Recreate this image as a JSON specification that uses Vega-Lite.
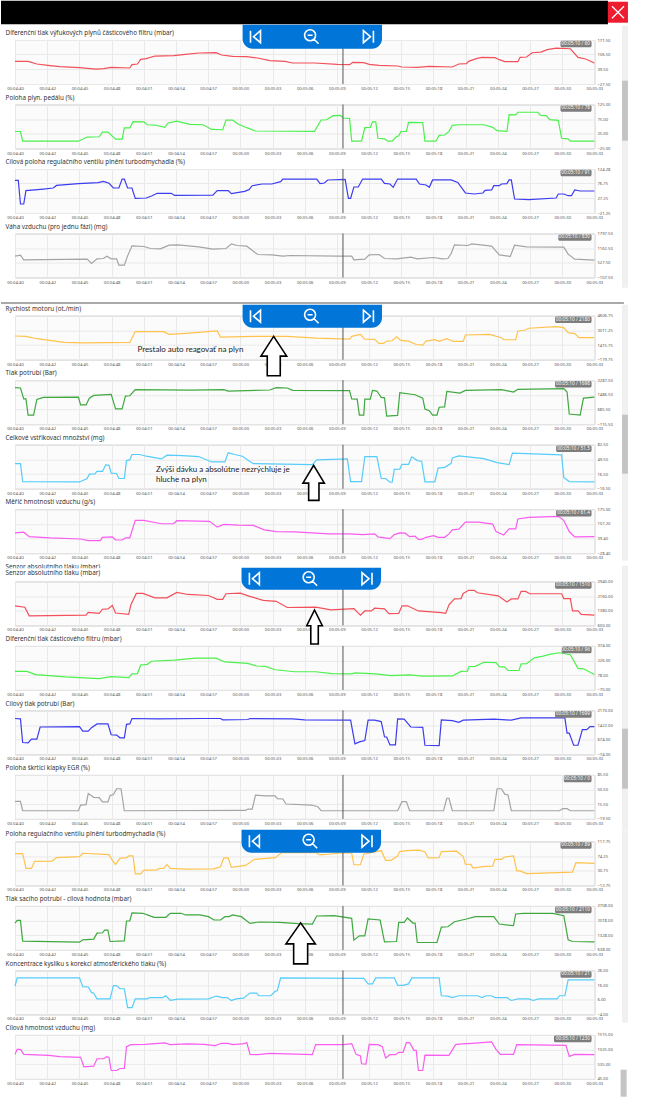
{
"$schema":"https://vega.github.io/schema/vega-lite/v6.json",
"padding":0,
"background":"white",
"config":{
"view":{"fill":"#fbfbfb","stroke":"#c4c4c4","strokeWidth":1},
"axis":{"domain":false,"ticks":false,"grid":true,"gridColor":"#e9e9e9","gridWidth":1,"labelFontSize":4.2,"labelColor":"#555555","labelFont":"Noto Sans","labelPadding":2.5,"labelOverlap":false,"labelBound":false,"labelFlush":false},
"title":{"anchor":"start","frame":"group","dx":-9.4,"offset":1.5,"fontSize":6.3,"fontWeight":"normal","font":"Noto Sans","color":"#333333"},
"text":{"font":"Noto Sans"}
},
"datasets":{
"s1":[{"t":280,"v":75},{"t":281.2,"v":75},{"t":282,"v":63},{"t":283,"v":57},{"t":284.1,"v":51},{"t":285.9,"v":46.4},{"t":287.4,"v":40},{"t":288.1,"v":42},{"t":288.8,"v":48},{"t":290.5,"v":45},{"t":290.7,"v":60},{"t":291.2,"v":63},{"t":291.5,"v":84},{"t":292,"v":87},{"t":292.8,"v":99},{"t":294.5,"v":100.6},{"t":295.6,"v":106.7},{"t":296.8,"v":112.7},{"t":298.4,"v":114},{"t":298.9,"v":103.6},{"t":299.9,"v":97.6},{"t":301.2,"v":96},{"t":302.2,"v":90},{"t":303.3,"v":78},{"t":304.7,"v":75},{"t":305.4,"v":67.5},{"t":307.4,"v":67.5},{"t":309.5,"v":61.4},{"t":310.6,"v":60},{"t":310.9,"v":70.5},{"t":311.9,"v":69},{"t":312.4,"v":61.4},{"t":313.3,"v":57},{"t":315,"v":54},{"t":315.4,"v":49.4},{"t":316.8,"v":48},{"t":317.9,"v":52.4},{"t":320,"v":49.4},{"t":320.6,"v":63},{"t":321.3,"v":64.5},{"t":321.5,"v":75},{"t":322.2,"v":87},{"t":322.7,"v":93},{"t":323.9,"v":91.6},{"t":324.3,"v":82.5},{"t":324.8,"v":73.5},{"t":326,"v":73.5},{"t":326.2,"v":93},{"t":326.8,"v":94.6},{"t":327.3,"v":114},{"t":328.1,"v":117},{"t":328.7,"v":127.8},{"t":329.5,"v":135},{"t":330.8,"v":132},{"t":331.5,"v":93},{"t":332.2,"v":85.6},{"t":333,"v":67.5}],
"s2":[{"t":280,"v":33},{"t":280.5,"v":33},{"t":280.7,"v":0},{"t":285.8,"v":0},{"t":286.6,"v":14},{"t":287.7,"v":15},{"t":288,"v":31},{"t":288.5,"v":31},{"t":289.2,"v":7},{"t":289.8,"v":7},{"t":290,"v":45},{"t":290.5,"v":45},{"t":290.8,"v":66.6},{"t":291.8,"v":65.5},{"t":292.1,"v":56},{"t":292.8,"v":55},{"t":293.7,"v":47},{"t":294,"v":62},{"t":294.8,"v":68},{"t":296,"v":57.4},{"t":297.2,"v":56},{"t":298,"v":40},{"t":299,"v":39},{"t":299.3,"v":72},{"t":299.9,"v":72},{"t":300.4,"v":58.6},{"t":301.2,"v":46},{"t":302,"v":34.6},{"t":307.4,"v":33.4},{"t":308,"v":72.3},{"t":308.5,"v":73},{"t":309.1,"v":87},{"t":309.8,"v":88},{"t":310,"v":79},{"t":310.6,"v":78},{"t":310.8,"v":0},{"t":311.7,"v":0},{"t":312,"v":46},{"t":312.5,"v":47},{"t":312.7,"v":65.5},{"t":313,"v":65.5},{"t":313.2,"v":10},{"t":313.8,"v":8},{"t":314.1,"v":0},{"t":314.5,"v":0},{"t":314.9,"v":16},{"t":315.1,"v":18},{"t":315.3,"v":33},{"t":315.8,"v":33},{"t":316,"v":64},{"t":317.3,"v":63},{"t":317.5,"v":0},{"t":318.5,"v":0},{"t":318.8,"v":20},{"t":319.3,"v":21},{"t":319.7,"v":33.4},{"t":320,"v":54},{"t":320.6,"v":56},{"t":322.9,"v":56},{"t":323.7,"v":47},{"t":324.1,"v":36},{"t":325,"v":33.4},{"t":325.2,"v":90.6},{"t":325.8,"v":90},{"t":326,"v":98.6},{"t":327.8,"v":98.6},{"t":328.1,"v":88},{"t":328.6,"v":87},{"t":328.9,"v":73.5},{"t":329.7,"v":71},{"t":330,"v":10},{"t":330.6,"v":8},{"t":330.8,"v":0},{"t":333,"v":0}],
"s3":[{"t":280,"v":87},{"t":280.3,"v":87},{"t":280.5,"v":8.5},{"t":280.8,"v":8.5},{"t":281,"v":52.6},{"t":282.6,"v":58},{"t":283.5,"v":61.4},{"t":283.8,"v":70},{"t":285.8,"v":75.8},{"t":287.6,"v":79},{"t":288.1,"v":83.5},{"t":288.6,"v":77},{"t":289,"v":61.4},{"t":289.5,"v":61.4},{"t":289.8,"v":91},{"t":290,"v":91},{"t":290.3,"v":61.4},{"t":290.7,"v":61.4},{"t":291,"v":27},{"t":292,"v":28.4},{"t":292.5,"v":35},{"t":293,"v":44},{"t":294.3,"v":44},{"t":294.6,"v":37},{"t":298.1,"v":38},{"t":298.5,"v":52.6},{"t":299.5,"v":52.6},{"t":299.8,"v":42.7},{"t":301,"v":50.4},{"t":301.4,"v":56},{"t":301.7,"v":69},{"t":302.6,"v":74.7},{"t":303.5,"v":74.7},{"t":304.3,"v":82.4},{"t":304.5,"v":91},{"t":307.6,"v":91},{"t":307.9,"v":75.8},{"t":308.3,"v":78},{"t":308.6,"v":88},{"t":310.2,"v":90},{"t":310.5,"v":27},{"t":310.7,"v":27},{"t":311,"v":64.7},{"t":311.4,"v":64.7},{"t":311.8,"v":91},{"t":313.5,"v":91},{"t":313.8,"v":76.9},{"t":314.3,"v":74.7},{"t":314.6,"v":63.6},{"t":315,"v":91},{"t":316.7,"v":91},{"t":317,"v":74.7},{"t":317.6,"v":71.4},{"t":317.9,"v":63.6},{"t":318.2,"v":88},{"t":319.9,"v":88},{"t":320.5,"v":80},{"t":321.2,"v":45},{"t":322,"v":41.6},{"t":322.8,"v":45},{"t":323,"v":53.7},{"t":323.6,"v":55},{"t":323.8,"v":69},{"t":324.3,"v":69},{"t":324.5,"v":74.7},{"t":325,"v":75.8},{"t":325.2,"v":88},{"t":325.4,"v":88},{"t":325.7,"v":25},{"t":327,"v":22.8},{"t":329.5,"v":28.4},{"t":329.7,"v":41.6},{"t":330.2,"v":41.6},{"t":330.6,"v":36},{"t":330.9,"v":36},{"t":331.2,"v":55},{"t":331.7,"v":51.5},{"t":333,"v":51.5}],
"s4":[{"t":280,"v":816},{"t":280.5,"v":860},{"t":280.8,"v":657},{"t":286.6,"v":686},{"t":287,"v":499},{"t":287.5,"v":700},{"t":288.1,"v":715},{"t":288.4,"v":816},{"t":288.8,"v":700},{"t":289.3,"v":700},{"t":289.5,"v":427},{"t":290,"v":427},{"t":290.3,"v":830},{"t":290.7,"v":1264},{"t":291.8,"v":1235},{"t":292.4,"v":1148},{"t":293.3,"v":1134},{"t":294.1,"v":1292},{"t":294.9,"v":1307},{"t":296.8,"v":1220},{"t":298.1,"v":1119},{"t":299.3,"v":1148},{"t":299.8,"v":1350},{"t":300.3,"v":1278},{"t":301.2,"v":1249},{"t":302.2,"v":888},{"t":303.5,"v":874},{"t":304.5,"v":816},{"t":305.2,"v":845},{"t":309.5,"v":816},{"t":310.8,"v":816},{"t":311,"v":657},{"t":312,"v":686},{"t":312.4,"v":874},{"t":313.3,"v":888},{"t":313.8,"v":715},{"t":314.9,"v":700},{"t":316.2,"v":773},{"t":316.8,"v":700},{"t":318.3,"v":758},{"t":319.1,"v":700},{"t":319.6,"v":715},{"t":319.9,"v":932},{"t":320.2,"v":1307},{"t":321.4,"v":1278},{"t":321.8,"v":1350},{"t":323.6,"v":1249},{"t":324.3,"v":874},{"t":325.3,"v":802},{"t":325.7,"v":1292},{"t":326.8,"v":1220},{"t":330.2,"v":1206},{"t":330.6,"v":903},{"t":331.2,"v":686},{"t":333,"v":643}],
"s5":[{"t":280,"v":2398},{"t":281,"v":2361},{"t":282,"v":2103},{"t":283,"v":1956},{"t":284.5,"v":1698},{"t":286.4,"v":1661},{"t":290.5,"v":1698},{"t":291,"v":2876},{"t":293.6,"v":2876},{"t":294.1,"v":2582},{"t":295.6,"v":2692},{"t":298.5,"v":2950},{"t":298.8,"v":2287},{"t":301.8,"v":2361},{"t":304.9,"v":2361},{"t":307.6,"v":2177},{"t":310.6,"v":2066},{"t":310.8,"v":2361},{"t":311.6,"v":2582},{"t":312,"v":2066},{"t":312.9,"v":2029},{"t":313.3,"v":1587},{"t":313.7,"v":1587},{"t":314,"v":1845},{"t":314.5,"v":1882},{"t":314.9,"v":2324},{"t":315.3,"v":1919},{"t":316,"v":1845},{"t":316.7,"v":1477},{"t":317.3,"v":1403},{"t":317.6,"v":1845},{"t":318.4,"v":1992},{"t":318.8,"v":1808},{"t":319.5,"v":2103},{"t":320.1,"v":1808},{"t":321,"v":1808},{"t":321.2,"v":2508},{"t":323.4,"v":2582},{"t":324.5,"v":2213},{"t":324.7,"v":1992},{"t":325.8,"v":1992},{"t":326,"v":2950},{"t":326.6,"v":3024},{"t":327,"v":3244},{"t":329.5,"v":3428},{"t":330.2,"v":3318},{"t":330.6,"v":2766},{"t":331.2,"v":2655},{"t":331.6,"v":2213},{"t":333,"v":2213}],
"s6":[{"t":280,"v":1881},{"t":280.5,"v":1862},{"t":280.8,"v":1271},{"t":281,"v":1271},{"t":281.2,"v":384},{"t":281.7,"v":384},{"t":282,"v":1234},{"t":282.6,"v":1345},{"t":285.8,"v":1363},{"t":286,"v":938},{"t":286.5,"v":938},{"t":286.8,"v":1308},{"t":287.2,"v":1456},{"t":288.8,"v":1511},{"t":289.2,"v":717},{"t":289.8,"v":717},{"t":290.1,"v":1419},{"t":290.5,"v":1437},{"t":291,"v":1770},{"t":296,"v":1751},{"t":299.1,"v":1770},{"t":299.5,"v":1696},{"t":303.3,"v":1751},{"t":303.9,"v":1881},{"t":304.9,"v":1862},{"t":305.4,"v":1733},{"t":310.6,"v":1715},{"t":310.8,"v":1271},{"t":311.3,"v":1252},{"t":311.5,"v":384},{"t":311.9,"v":384},{"t":312,"v":1252},{"t":312.5,"v":1252},{"t":312.7,"v":1733},{"t":313.1,"v":1696},{"t":313.5,"v":1345},{"t":313.8,"v":1326},{"t":314,"v":328},{"t":315,"v":365},{"t":315.2,"v":1604},{"t":316.6,"v":1493},{"t":317.3,"v":1308},{"t":317.5,"v":717},{"t":317.9,"v":624},{"t":318.2,"v":384},{"t":318.6,"v":384},{"t":318.8,"v":809},{"t":319.3,"v":828},{"t":319.5,"v":1678},{"t":320.7,"v":1585},{"t":321.2,"v":1733},{"t":324.5,"v":1770},{"t":325.6,"v":1641},{"t":326,"v":1788},{"t":330.2,"v":1825},{"t":330.5,"v":1641},{"t":330.7,"v":439},{"t":331.7,"v":384},{"t":332,"v":1308},{"t":333,"v":1363}],
"s7":[{"t":280,"v":39.9},{"t":280.5,"v":39.9},{"t":280.7,"v":-0.5},{"t":285.9,"v":-1.3},{"t":286.6,"v":6.4},{"t":286.8,"v":16.2},{"t":287.3,"v":17},{"t":287.5,"v":22.3},{"t":288,"v":22.3},{"t":288.3,"v":36.8},{"t":288.6,"v":36},{"t":288.8,"v":18.5},{"t":289.3,"v":17.8},{"t":289.5,"v":6.4},{"t":290,"v":6.4},{"t":290.2,"v":46.7},{"t":290.5,"v":48.2},{"t":290.7,"v":60.4},{"t":291.4,"v":60.4},{"t":292,"v":56.6},{"t":293.4,"v":50.5},{"t":293.9,"v":58.9},{"t":295.3,"v":58.1},{"t":296.8,"v":55.8},{"t":298,"v":43.7},{"t":299.2,"v":43.7},{"t":299.5,"v":64.2},{"t":300.1,"v":60.4},{"t":300.8,"v":56.6},{"t":301.8,"v":39.9},{"t":307.2,"v":37.6},{"t":307.6,"v":48.2},{"t":310.4,"v":50.5},{"t":310.7,"v":-0.5},{"t":311.7,"v":-0.5},{"t":312,"v":55.8},{"t":313.1,"v":55.8},{"t":313.5,"v":6.4},{"t":313.9,"v":6.4},{"t":314.3,"v":-2},{"t":314.5,"v":-2},{"t":314.7,"v":26.9},{"t":315.2,"v":27.7},{"t":315.4,"v":38.3},{"t":316,"v":38.3},{"t":316.3,"v":55.1},{"t":316.8,"v":46.7},{"t":317.2,"v":45.2},{"t":317.5,"v":-1.3},{"t":318.4,"v":-1.3},{"t":318.7,"v":30},{"t":319.3,"v":31.5},{"t":319.9,"v":40.6},{"t":320,"v":52.8},{"t":320.6,"v":57.4},{"t":322.9,"v":51.3},{"t":324.1,"v":42.1},{"t":325.2,"v":37.6},{"t":325.5,"v":63.5},{"t":330,"v":59.7},{"t":330.2,"v":8.6},{"t":330.7,"v":-0.5},{"t":333,"v":-1.3}],
"s8":[{"t":280,"v":65.5},{"t":280.8,"v":68.6},{"t":281.3,"v":48.2},{"t":283.2,"v":42},{"t":286,"v":37.3},{"t":286.7,"v":29.5},{"t":287.8,"v":29.5},{"t":288,"v":45},{"t":288.9,"v":46.7},{"t":289.2,"v":32.6},{"t":289.8,"v":32.6},{"t":290.1,"v":42},{"t":290.5,"v":42},{"t":291,"v":123.4},{"t":291.8,"v":123.4},{"t":293.4,"v":107.7},{"t":294.5,"v":107.7},{"t":294.8,"v":121.8},{"t":297.8,"v":118.7},{"t":298.5,"v":92},{"t":299.1,"v":104.6},{"t":300.4,"v":101.4},{"t":301.8,"v":100},{"t":302.8,"v":79.5},{"t":303.9,"v":71.7},{"t":305.6,"v":70},{"t":308.7,"v":60.8},{"t":310.6,"v":60.8},{"t":311.8,"v":57.6},{"t":312.9,"v":60.8},{"t":313.2,"v":46.7},{"t":314.3,"v":38.8},{"t":314.7,"v":57.6},{"t":315.2,"v":65.5},{"t":315.7,"v":64},{"t":316.1,"v":48.2},{"t":316.6,"v":50},{"t":316.9,"v":35.7},{"t":317.2,"v":35.7},{"t":317.6,"v":45},{"t":318.3,"v":52.9},{"t":318.7,"v":45},{"t":319.3,"v":45},{"t":319.7,"v":60.8},{"t":320,"v":79.5},{"t":320.6,"v":82.7},{"t":321.2,"v":115.5},{"t":322.4,"v":115.5},{"t":323.7,"v":106},{"t":324,"v":71.7},{"t":324.7,"v":56},{"t":325.2,"v":84},{"t":325.8,"v":84},{"t":326,"v":129.6},{"t":327,"v":137.4},{"t":329.7,"v":142},{"t":330.2,"v":123.4},{"t":330.7,"v":71.7},{"t":331.2,"v":46.7},{"t":333,"v":48}],
"s9":[{"t":280,"v":1642},{"t":280.9,"v":1569},{"t":281.3,"v":1112},{"t":286.5,"v":1149},{"t":286.7,"v":1295},{"t":287.7,"v":1240},{"t":288,"v":1459},{"t":288.5,"v":1478},{"t":288.9,"v":1660},{"t":289.2,"v":1258},{"t":290.4,"v":1185},{"t":290.6,"v":1697},{"t":291.1,"v":2300},{"t":291.7,"v":2300},{"t":292.8,"v":2063},{"t":293.9,"v":2063},{"t":294.8,"v":2355},{"t":295.8,"v":2245},{"t":297.7,"v":2190},{"t":298.5,"v":1989},{"t":299,"v":1989},{"t":299.3,"v":2282},{"t":300.6,"v":2318},{"t":301.4,"v":2154},{"t":302.7,"v":1935},{"t":303.9,"v":1880},{"t":304.9,"v":1551},{"t":307.5,"v":1569},{"t":308.9,"v":1423},{"t":311,"v":1496},{"t":311.6,"v":1149},{"t":312,"v":1368},{"t":312.6,"v":1368},{"t":312.9,"v":1514},{"t":313.8,"v":1478},{"t":314.2,"v":1222},{"t":315.1,"v":1240},{"t":315.4,"v":1642},{"t":315.9,"v":1642},{"t":316.9,"v":1368},{"t":319,"v":1277},{"t":319.4,"v":1240},{"t":319.7,"v":1697},{"t":320.2,"v":2008},{"t":320.8,"v":2026},{"t":321,"v":2300},{"t":321.5,"v":2465},{"t":322,"v":2465},{"t":322.3,"v":2337},{"t":324.2,"v":2172},{"t":325,"v":1843},{"t":325.4,"v":2008},{"t":326,"v":2008},{"t":326.3,"v":2410},{"t":326.7,"v":2410},{"t":327.1,"v":2282},{"t":330,"v":2282},{"t":330.2,"v":2026},{"t":330.8,"v":2026},{"t":331,"v":1368},{"t":331.5,"v":1368},{"t":331.8,"v":1185},{"t":333,"v":1149}],
"s10":[{"t":280,"v":116},{"t":281.1,"v":116},{"t":281.9,"v":85},{"t":284.6,"v":61},{"t":287.7,"v":44},{"t":288.8,"v":64},{"t":290.4,"v":54},{"t":290.7,"v":92},{"t":291.2,"v":95},{"t":291.5,"v":181},{"t":292.1,"v":188},{"t":292.5,"v":219},{"t":294.6,"v":230},{"t":296.5,"v":250},{"t":298.4,"v":250},{"t":299.2,"v":212},{"t":301.3,"v":198},{"t":302.1,"v":171},{"t":302.9,"v":167},{"t":303.8,"v":133},{"t":305.6,"v":113},{"t":307.5,"v":113},{"t":309,"v":95},{"t":310.8,"v":92},{"t":311.1,"v":102},{"t":313,"v":92},{"t":314.4,"v":75},{"t":316.1,"v":81},{"t":317.3,"v":68},{"t":320,"v":71},{"t":320.8,"v":116},{"t":321.4,"v":119},{"t":321.5,"v":164},{"t":322.1,"v":167},{"t":322.9,"v":209},{"t":324,"v":205},{"t":324.3,"v":164},{"t":324.8,"v":160},{"t":325.1,"v":126},{"t":326.1,"v":126},{"t":326.3,"v":192},{"t":326.8,"v":195},{"t":327.5,"v":254},{"t":328.3,"v":271},{"t":329,"v":291},{"t":329.8,"v":305},{"t":330.8,"v":285},{"t":331.5,"v":147},{"t":332,"v":143},{"t":333,"v":85}],
"s11":[{"t":280,"v":1756},{"t":280.5,"v":1738},{"t":280.7,"v":530},{"t":281.2,"v":513},{"t":281.5,"v":703},{"t":282,"v":703},{"t":282.3,"v":1324},{"t":285.9,"v":1342},{"t":286.2,"v":1117},{"t":286.7,"v":1117},{"t":287,"v":1290},{"t":287.5,"v":1480},{"t":288.5,"v":1480},{"t":288.8,"v":927},{"t":289.3,"v":910},{"t":289.6,"v":772},{"t":290,"v":772},{"t":290.2,"v":1462},{"t":290.5,"v":1480},{"t":290.7,"v":1756},{"t":293,"v":1738},{"t":297.3,"v":1756},{"t":298.8,"v":1756},{"t":299,"v":1687},{"t":301.3,"v":1705},{"t":301.5,"v":1756},{"t":305.4,"v":1738},{"t":306.5,"v":1687},{"t":310.7,"v":1670},{"t":311,"v":755},{"t":311.1,"v":461},{"t":311.5,"v":565},{"t":312,"v":634},{"t":312.3,"v":1670},{"t":312.9,"v":1670},{"t":313.5,"v":1600},{"t":313.8,"v":824},{"t":314,"v":807},{"t":314.3,"v":410},{"t":314.8,"v":410},{"t":315,"v":1738},{"t":315.6,"v":1721},{"t":316.2,"v":1324},{"t":317.3,"v":1307},{"t":317.5,"v":392},{"t":318.8,"v":375},{"t":319,"v":1687},{"t":320,"v":1652},{"t":320.6,"v":1566},{"t":321,"v":1670},{"t":323.8,"v":1721},{"t":325.4,"v":1670},{"t":326.3,"v":1790},{"t":330.3,"v":1790},{"t":330.5,"v":1014},{"t":330.7,"v":1014},{"t":331.1,"v":392},{"t":331.5,"v":392},{"t":331.9,"v":1186},{"t":332.3,"v":1186},{"t":332.6,"v":1342},{"t":333,"v":1342}],
"s12":[{"t":280,"v":22.5},{"t":280.5,"v":22.5},{"t":280.7,"v":0},{"t":285.8,"v":0},{"t":286,"v":13.6},{"t":286.5,"v":14.4},{"t":286.7,"v":41},{"t":287.2,"v":32},{"t":287.7,"v":31.4},{"t":288,"v":20.9},{"t":288.5,"v":20.9},{"t":288.7,"v":36.2},{"t":289,"v":38.7},{"t":289.3,"v":52.4},{"t":289.7,"v":52.4},{"t":290,"v":0},{"t":301.1,"v":0.8},{"t":301.3,"v":4},{"t":301.7,"v":4},{"t":302,"v":37},{"t":302.9,"v":35.4},{"t":303.8,"v":35.4},{"t":304,"v":29},{"t":304.5,"v":28},{"t":304.8,"v":16},{"t":307.1,"v":13.6},{"t":307.7,"v":9.7},{"t":308,"v":0},{"t":315,"v":0},{"t":315.4,"v":21.7},{"t":315.8,"v":21.7},{"t":316.1,"v":0},{"t":319.2,"v":0},{"t":319.5,"v":29.8},{"t":319.7,"v":29.8},{"t":320,"v":0},{"t":323.8,"v":0},{"t":324.1,"v":52.4},{"t":324.5,"v":52.4},{"t":324.8,"v":39.5},{"t":325.1,"v":37.8},{"t":325.4,"v":0},{"t":329.8,"v":0},{"t":330.1,"v":4.8},{"t":330.5,"v":4.8},{"t":330.8,"v":0},{"t":333,"v":0}],
"s13":[{"t":280,"v":81.6},{"t":280.7,"v":81.6},{"t":281,"v":37.5},{"t":281.5,"v":37.5},{"t":281.8,"v":58.5},{"t":283.4,"v":59.5},{"t":283.8,"v":69.6},{"t":285.9,"v":72.6},{"t":286.2,"v":82.6},{"t":288.6,"v":78.6},{"t":288.9,"v":61.5},{"t":289.2,"v":49.5},{"t":289.6,"v":67.6},{"t":290.2,"v":69.6},{"t":290.4,"v":74.6},{"t":290.8,"v":74.6},{"t":291,"v":21.4},{"t":291.5,"v":21.4},{"t":291.8,"v":32.4},{"t":292.9,"v":32.4},{"t":293.2,"v":37.5},{"t":293.6,"v":37.5},{"t":293.9,"v":49.5},{"t":294.2,"v":37.5},{"t":295.7,"v":35.4},{"t":298.2,"v":36.5},{"t":298.8,"v":42.5},{"t":299.1,"v":68.6},{"t":299.5,"v":68.6},{"t":299.8,"v":40.5},{"t":301.1,"v":46.5},{"t":301.9,"v":64.5},{"t":303.8,"v":69.6},{"t":304.4,"v":84.6},{"t":307.5,"v":84.6},{"t":307.9,"v":77.6},{"t":308.6,"v":79.6},{"t":310.2,"v":84.6},{"t":310.8,"v":82.6},{"t":311,"v":48.5},{"t":311.6,"v":48.5},{"t":311.9,"v":79.6},{"t":313.5,"v":90.6},{"t":313.9,"v":61.5},{"t":314.4,"v":61.5},{"t":315,"v":74.6},{"t":315.2,"v":87.6},{"t":315.8,"v":90.6},{"t":317,"v":91.6},{"t":317.5,"v":86.6},{"t":317.8,"v":68.6},{"t":318.8,"v":69.6},{"t":319,"v":87.6},{"t":320.4,"v":88.6},{"t":321,"v":72.6},{"t":321.2,"v":50.5},{"t":321.7,"v":49.5},{"t":321.9,"v":38.5},{"t":323,"v":43.5},{"t":323.7,"v":44.5},{"t":323.9,"v":64.5},{"t":324.5,"v":64.5},{"t":324.8,"v":71.6},{"t":325.6,"v":74.6},{"t":325.9,"v":30.4},{"t":326.2,"v":30.4},{"t":326.8,"v":22.4},{"t":331,"v":26.4},{"t":331.3,"v":54.5},{"t":333,"v":52.5}],
"s14":[{"t":280,"v":1902},{"t":280.2,"v":2029},{"t":280.5,"v":2029},{"t":280.7,"v":1049},{"t":285.9,"v":1002},{"t":286.2,"v":1112},{"t":287.2,"v":1144},{"t":287.5,"v":1428},{"t":288,"v":1444},{"t":288.2,"v":1570},{"t":288.5,"v":1570},{"t":288.7,"v":1033},{"t":290,"v":1065},{"t":290.2,"v":1997},{"t":290.5,"v":1997},{"t":290.7,"v":2376},{"t":291.7,"v":2360},{"t":292.3,"v":2250},{"t":292.7,"v":2171},{"t":293.8,"v":2171},{"t":294.2,"v":2360},{"t":295.2,"v":2360},{"t":295.6,"v":2281},{"t":296.9,"v":2281},{"t":297.7,"v":2202},{"t":298.2,"v":2044},{"t":298.8,"v":2044},{"t":299.2,"v":2202},{"t":299.6,"v":2202},{"t":299.9,"v":2281},{"t":300.7,"v":2202},{"t":301.5,"v":1886},{"t":302.3,"v":1950},{"t":304.2,"v":1934},{"t":305.9,"v":1871},{"t":307.2,"v":1855},{"t":307.6,"v":2234},{"t":309.2,"v":2250},{"t":310.8,"v":2123},{"t":311,"v":1096},{"t":311.5,"v":1302},{"t":312,"v":1302},{"t":312.3,"v":2092},{"t":313.4,"v":2044},{"t":313.8,"v":1017},{"t":314.9,"v":1033},{"t":315.1,"v":1934},{"t":315.6,"v":1934},{"t":315.9,"v":2139},{"t":316.4,"v":1902},{"t":316.6,"v":1902},{"t":316.8,"v":986},{"t":318.6,"v":986},{"t":319,"v":1713},{"t":319.6,"v":1728},{"t":320.2,"v":1965},{"t":321.3,"v":2092},{"t":322.1,"v":2202},{"t":323.8,"v":2202},{"t":324.3,"v":1855},{"t":325.6,"v":1776},{"t":325.8,"v":2329},{"t":326.5,"v":2360},{"t":329.2,"v":2360},{"t":330.2,"v":2250},{"t":330.6,"v":1112},{"t":331,"v":1033},{"t":333,"v":1017}],
"s15":[{"t":280,"v":15.2},{"t":280.2,"v":20.9},{"t":285.9,"v":20.9},{"t":286.2,"v":14.9},{"t":286.7,"v":14.7},{"t":287,"v":11},{"t":287.2,"v":10.5},{"t":287.5,"v":6.6},{"t":288.7,"v":6.6},{"t":289,"v":15.6},{"t":289.3,"v":15.6},{"t":289.6,"v":13.5},{"t":290,"v":13.5},{"t":290.3,"v":0.6},{"t":290.7,"v":0.6},{"t":291,"v":6.6},{"t":292.1,"v":6.6},{"t":292.3,"v":7.5},{"t":293.5,"v":7.5},{"t":293.8,"v":8.7},{"t":294.2,"v":5.5},{"t":294.9,"v":6.4},{"t":297.7,"v":6.6},{"t":298.4,"v":8.5},{"t":299,"v":7.5},{"t":299.4,"v":7.5},{"t":299.8,"v":5.5},{"t":300.2,"v":6.6},{"t":300.9,"v":7.1},{"t":301.5,"v":10.5},{"t":302.1,"v":10.5},{"t":302.3,"v":8.7},{"t":303.4,"v":8.7},{"t":303.8,"v":11.7},{"t":304,"v":12.2},{"t":304.3,"v":20.9},{"t":311.9,"v":20.5},{"t":312.3,"v":16.8},{"t":312.7,"v":16.8},{"t":313,"v":20.9},{"t":314.7,"v":20.9},{"t":315,"v":15.8},{"t":315.5,"v":15.8},{"t":316,"v":16.8},{"t":316.3,"v":20.9},{"t":318.8,"v":20.9},{"t":319,"v":8.7},{"t":319.6,"v":8.5},{"t":320,"v":7.5},{"t":320.6,"v":8.7},{"t":322.3,"v":8.7},{"t":322.7,"v":7.5},{"t":323.1,"v":8.7},{"t":323.6,"v":8.7},{"t":323.9,"v":7.5},{"t":325,"v":7.5},{"t":325.4,"v":5.5},{"t":326,"v":6.6},{"t":327,"v":6.6},{"t":327.4,"v":5.5},{"t":327.9,"v":6.6},{"t":329.6,"v":6.6},{"t":329.8,"v":8.7},{"t":330.3,"v":8.7},{"t":330.6,"v":19.5},{"t":333,"v":19.5}],
"s16":[{"t":280,"v":864},{"t":280.2,"v":1032},{"t":280.5,"v":1032},{"t":280.8,"v":864},{"t":283.1,"v":831},{"t":284.1,"v":786},{"t":286,"v":763},{"t":286.3,"v":449},{"t":287.2,"v":471},{"t":287.5,"v":718},{"t":288.1,"v":718},{"t":288.4,"v":786},{"t":288.6,"v":763},{"t":288.8,"v":326},{"t":289.3,"v":326},{"t":289.6,"v":393},{"t":290,"v":393},{"t":290.2,"v":1122},{"t":290.6,"v":1190},{"t":291.9,"v":1201},{"t":293.7,"v":1246},{"t":294.2,"v":1190},{"t":295.8,"v":1212},{"t":297.3,"v":1201},{"t":298.3,"v":1156},{"t":298.9,"v":1234},{"t":299.5,"v":1234},{"t":299.9,"v":1190},{"t":300.8,"v":1212},{"t":301.2,"v":1257},{"t":301.5,"v":864},{"t":302.2,"v":853},{"t":303.3,"v":898},{"t":307.2,"v":853},{"t":307.5,"v":1190},{"t":310.1,"v":1190},{"t":310.8,"v":1223},{"t":311.2,"v":864},{"t":311.6,"v":808},{"t":311.7,"v":550},{"t":312.1,"v":539},{"t":312.4,"v":1201},{"t":313.2,"v":1190},{"t":313.6,"v":1122},{"t":313.9,"v":741},{"t":314.3,"v":853},{"t":314.8,"v":853},{"t":315.1,"v":932},{"t":315.5,"v":932},{"t":315.8,"v":1257},{"t":316.1,"v":1257},{"t":316.5,"v":998},{"t":316.7,"v":998},{"t":316.9,"v":326},{"t":317.3,"v":326},{"t":317.5,"v":842},{"t":319.7,"v":831},{"t":320.3,"v":1190},{"t":320.9,"v":1212},{"t":321.8,"v":1234},{"t":323.6,"v":1279},{"t":324,"v":1032},{"t":324.4,"v":864},{"t":325.6,"v":864},{"t":325.9,"v":1190},{"t":330.4,"v":1167},{"t":330.7,"v":797},{"t":331.2,"v":864},{"t":333,"v":853}]
},
"bounds":"flush",
"spacing":275.7,
"vconcat":[
{"bounds":"flush","spacing":20.5,"vconcat":[
{"width":579.4,"height":44,"data":{"name":"s1"},
"encoding":{"x":{"field":"t","type":"quantitative","scale":{"domain":[280,333],"nice":false,"zero":false},"axis":{"title":null,"values":[280,282.95,285.9,288.84,291.78,294.73,297.67,300.61,303.56,306.5,309.44,312.39,315.33,318.28,321.22,324.17,327.11,330.06,333],"labelExpr":"'00:0'+floor(datum.value/60)+':'+(floor(datum.value%60)<10?'0':'')+floor(datum.value%60)"}},
"y":{"field":"v","type":"quantitative","scale":{"domain":[-27.5,171.5],"nice":false,"zero":false},"axis":{"title":null,"orient":"right","values":[-27.5,39.5,106.5,171.5],"format":".2f"}}},
"layer":[
{"mark":{"type":"line","color":"#f2505a","strokeWidth":1.2}},
{"data":{"values":[{"t":310,"v":-27.5,"v2":171.5}]},"mark":{"type":"rule","color":"#555555","strokeWidth":1},"encoding":{"y2":{"field":"v2"}}},
{"data":{"values":[{"t":329.9,"t2":332.74,"v":168.3,"v2":138.3}]},"mark":{"type":"rect","color":"#7d7d7d","cornerRadius":1.5},"encoding":{"x2":{"field":"t2"},"y2":{"field":"v2"}}},
{"data":{"values":[{"t":332.6,"v":153.6,"label":"00:05:10 / 60"}]},"mark":{"type":"text","color":"white","fontSize":4.8,"align":"right"},"encoding":{"text":{"field":"label"}}},
{"data":{"values":[{"t":279.14,"v":204.5,"label":"Diferenční tlak výfukových plynů částicového filtru (mbar)"}]},"mark":{"type":"text","color":"#333333","fontSize":6.3,"align":"left"},"encoding":{"text":{"field":"label"}}},
{"data":{"values":[{"t":278.72,"t2":334.24,"v":349.3,"v2":243}]},"mark":{"type":"rect","color":"black"},"encoding":{"x2":{"field":"t2"},"y2":{"field":"v2"}}},
{"data":{"values":[{"t":334.24,"t2":336.07,"v":344.7,"v2":249.7}]},"mark":{"type":"rect","color":"#ed1c2e"},"encoding":{"x2":{"field":"t2"},"y2":{"field":"v2"}}},
{"data":{"values":[{"t":335.16,"v":297}]},"mark":{"type":"point","shape":"M-6,-6L6,6M6,-6L-6,6","size":4,"stroke":"white","strokeWidth":1.3,"opacity":1}},
{"data":{"values":[{"t":335.53,"t2":336.07,"v":236.2,"v2":-948.8}]},"mark":{"type":"rect","color":"#f0f0f0"},"encoding":{"x2":{"field":"t2"},"y2":{"field":"v2"}}},
{"data":{"values":[{"t":335.53,"t2":336.07,"v":-12.6,"v2":-284}]},"mark":{"type":"rect","color":"#c4c4c4"},"encoding":{"x2":{"field":"t2"},"y2":{"field":"v2"}}},
{"data":{"values":[{"t":300.82,"t2":313.57,"v":240.7,"v2":132.2}]},"mark":{"type":"rect","color":"#0275d8","cornerRadiusBottomLeft":10,"cornerRadiusBottomRight":10},"encoding":{"x2":{"field":"t2"},"y2":{"field":"v2"}}},
{"data":{"values":[{"t":302,"v":186.4}]},"mark":{"type":"point","shape":"M-5,-6V6M5,-6L-2,0L5,6Z","size":4,"stroke":"white","strokeWidth":1.6,"opacity":1}},
{"data":{"values":[{"t":307.13,"v":186.4}]},"mark":{"type":"point","shape":"M4,-1.5A5.5,5.5,0,1,1,-7,-1.5A5.5,5.5,0,1,1,4,-1.5ZM-4,-1.5H1M2.5,2.5L7,7","size":4,"stroke":"white","strokeWidth":1.6,"opacity":1}},
{"data":{"values":[{"t":312.33,"v":186.4}]},"mark":{"type":"point","shape":"M5,-6V6M-5,-6L2,0L-5,6Z","size":4,"stroke":"white","strokeWidth":1.6,"opacity":1}}
]},
{"title":{"text":"Poloha plyn. pedálu (%)"},"width":579.4,"height":44,"data":{"name":"s2"},
"encoding":{"x":{"field":"t","type":"quantitative","scale":{"domain":[280,333],"nice":false,"zero":false},"axis":{"title":null,"values":[280,282.95,285.9,288.84,291.78,294.73,297.67,300.61,303.56,306.5,309.44,312.39,315.33,318.28,321.22,324.17,327.11,330.06,333],"labelExpr":"'00:0'+floor(datum.value/60)+':'+(floor(datum.value%60)<10?'0':'')+floor(datum.value%60)"}},
"y":{"field":"v","type":"quantitative","scale":{"domain":[-25,125],"nice":false,"zero":false},"axis":{"title":null,"orient":"right","values":[-25,25,75,125],"format":".2f"}}},
"layer":[
{"mark":{"type":"line","color":"#4cf04c","strokeWidth":1.2}},
{"data":{"values":[{"t":310,"v":-25,"v2":125}]},"mark":{"type":"rule","color":"#555555","strokeWidth":1},"encoding":{"y2":{"field":"v2"}}},
{"data":{"values":[{"t":329.9,"t2":332.74,"v":122.6,"v2":100}]},"mark":{"type":"rect","color":"#7d7d7d","cornerRadius":1.5},"encoding":{"x2":{"field":"t2"},"y2":{"field":"v2"}}},
{"data":{"values":[{"t":332.6,"v":111.5,"label":"00:05:10 / 78"}]},"mark":{"type":"text","color":"white","fontSize":4.8,"align":"right"},"encoding":{"text":{"field":"label"}}}
]},
{"title":{"text":"Cílová poloha regulačního ventilu plnění turbodmychadla (%)"},"width":579.4,"height":44,"data":{"name":"s3"},
"encoding":{"x":{"field":"t","type":"quantitative","scale":{"domain":[280,333],"nice":false,"zero":false},"axis":{"title":null,"values":[280,282.95,285.9,288.84,291.78,294.73,297.67,300.61,303.56,306.5,309.44,312.39,315.33,318.28,321.22,324.17,327.11,330.06,333],"labelExpr":"'00:0'+floor(datum.value/60)+':'+(floor(datum.value%60)<10?'0':'')+floor(datum.value%60)"}},
"y":{"field":"v","type":"quantitative","scale":{"domain":[-21.25,124.28],"nice":false,"zero":false},"axis":{"title":null,"orient":"right","values":[-21.25,27.25,76.75,124.28],"format":".2f"}}},
"layer":[
{"mark":{"type":"line","color":"#3c3cf0","strokeWidth":1.2}},
{"data":{"values":[{"t":310,"v":-21.25,"v2":124.28}]},"mark":{"type":"rule","color":"#555555","strokeWidth":1},"encoding":{"y2":{"field":"v2"}}},
{"data":{"values":[{"t":329.9,"t2":332.74,"v":122,"v2":100}]},"mark":{"type":"rect","color":"#7d7d7d","cornerRadius":1.5},"encoding":{"x2":{"field":"t2"},"y2":{"field":"v2"}}},
{"data":{"values":[{"t":332.6,"v":111.2,"label":"00:05:10 / 91"}]},"mark":{"type":"text","color":"white","fontSize":4.8,"align":"right"},"encoding":{"text":{"field":"label"}}}
]},
{"title":{"text":"Váha vzduchu (pro jednu fázi) (mg)"},"width":579.4,"height":44,"data":{"name":"s4"},
"encoding":{"x":{"field":"t","type":"quantitative","scale":{"domain":[280,333],"nice":false,"zero":false},"axis":{"title":null,"values":[280,282.95,285.9,288.84,291.78,294.73,297.67,300.61,303.56,306.5,309.44,312.39,315.33,318.28,321.22,324.17,327.11,330.06,333],"labelExpr":"'00:0'+floor(datum.value/60)+':'+(floor(datum.value%60)<10?'0':'')+floor(datum.value%60)"}},
"y":{"field":"v","type":"quantitative","scale":{"domain":[-107.5,1797.5],"nice":false,"zero":false},"axis":{"title":null,"orient":"right","values":[-107.5,527.5,1162.5,1797.5],"format":".2f"}}},
"layer":[
{"mark":{"type":"line","color":"#a4a4a4","strokeWidth":1.2}},
{"data":{"values":[{"t":310,"v":-107.5,"v2":1797.5}]},"mark":{"type":"rule","color":"#555555","strokeWidth":1},"encoding":{"y2":{"field":"v2"}}},
{"data":{"values":[{"t":329.7,"t2":332.74,"v":1767,"v2":1479.4}]},"mark":{"type":"rect","color":"#7d7d7d","cornerRadius":1.5},"encoding":{"x2":{"field":"t2"},"y2":{"field":"v2"}}},
{"data":{"values":[{"t":332.6,"v":1626,"label":"00:05:10 / 830"}]},"mark":{"type":"text","color":"white","fontSize":4.8,"align":"right"},"encoding":{"text":{"field":"label"}}}
]}
]},
{"bounds":"flush","spacing":265.7,"vconcat":[
{"bounds":"flush","spacing":20.5,"vconcat":[
{"width":579.4,"height":44,"data":{"name":"s5"},
"encoding":{"x":{"field":"t","type":"quantitative","scale":{"domain":[280,333],"nice":false,"zero":false},"axis":{"title":null,"values":[280,282.95,285.9,288.84,291.78,294.73,297.67,300.61,303.56,306.5,309.44,312.39,315.33,318.28,321.22,324.17,327.11,330.06,333],"labelExpr":"'00:0'+floor(datum.value/60)+':'+(floor(datum.value%60)<10?'0':'')+floor(datum.value%60)"}},
"y":{"field":"v","type":"quantitative","scale":{"domain":[-179.75,4606.75],"nice":false,"zero":false},"axis":{"title":null,"orient":"right","values":[-179.75,1415.75,3011.25,4606.75],"format":".2f"}}},
"layer":[
{"mark":{"type":"line","color":"#ffc34d","strokeWidth":1.2}},
{"data":{"values":[{"t":310,"v":-179.75,"v2":4606.75}]},"mark":{"type":"rule","color":"#555555","strokeWidth":1},"encoding":{"y2":{"field":"v2"}}},
{"data":{"values":[{"t":329.4,"t2":332.74,"v":4530,"v2":3807}]},"mark":{"type":"rect","color":"#7d7d7d","cornerRadius":1.5},"encoding":{"x2":{"field":"t2"},"y2":{"field":"v2"}}},
{"data":{"values":[{"t":332.6,"v":4176,"label":"00:05:10 / 2180"}]},"mark":{"type":"text","color":"white","fontSize":4.8,"align":"right"},"encoding":{"text":{"field":"label"}}},
{"data":{"values":[{"t":279.14,"v":5368,"label":"Rychlost motoru (ot./min)"}]},"mark":{"type":"text","color":"#333333","fontSize":6.3,"align":"left"},"encoding":{"text":{"field":"label"}}},
{"data":{"values":[{"t":278.72,"t2":335.7,"v":6075.5,"v2":5912}]},"mark":{"type":"rect","color":"#8c8c8c"},"encoding":{"x2":{"field":"t2"},"y2":{"field":"v2"}}},
{"data":{"values":[{"t":335.53,"t2":336.07,"v":5803.5,"v2":-22049}]},"mark":{"type":"rect","color":"#f0f0f0"},"encoding":{"x2":{"field":"t2"},"y2":{"field":"v2"}}},
{"data":{"values":[{"t":335.53,"t2":336.07,"v":-6164,"v2":-12583}]},"mark":{"type":"rect","color":"#c4c4c4"},"encoding":{"x2":{"field":"t2"},"y2":{"field":"v2"}}},
{"data":{"values":[{"t":291.2,"v":907,"label":"Prestalo auto reagovať na plyn"}]},"mark":{"type":"text","color":"#222222","fontSize":8,"font":"Lato","align":"left"},"encoding":{"text":{"field":"label"}}},
{"data":{"values":[{"t":303.66,"v":2354.6}]},"mark":{"type":"point","shape":"M0,0L13,19.7L6.6,19.7L6.6,39.3L-6.4,39.3L-6.4,19.7L-12.7,19.7Z","size":4,"fill":"white","filled":true,"stroke":"black","strokeWidth":1.6,"opacity":1}},
{"data":{"values":[{"t":300.82,"t2":313.57,"v":5803.5,"v2":3301}]},"mark":{"type":"rect","color":"#0275d8","cornerRadiusBottomLeft":10,"cornerRadiusBottomRight":10},"encoding":{"x2":{"field":"t2"},"y2":{"field":"v2"}}},
{"data":{"values":[{"t":302,"v":4552}]},"mark":{"type":"point","shape":"M-5,-6V6M5,-6L-2,0L5,6Z","size":4,"stroke":"white","strokeWidth":1.6,"opacity":1}},
{"data":{"values":[{"t":307.13,"v":4552}]},"mark":{"type":"point","shape":"M4,-1.5A5.5,5.5,0,1,1,-7,-1.5A5.5,5.5,0,1,1,4,-1.5ZM-4,-1.5H1M2.5,2.5L7,7","size":4,"stroke":"white","strokeWidth":1.6,"opacity":1}},
{"data":{"values":[{"t":312.33,"v":4552}]},"mark":{"type":"point","shape":"M5,-6V6M-5,-6L2,0L-5,6Z","size":4,"stroke":"white","strokeWidth":1.6,"opacity":1}}
]},
{"title":{"text":"Tlak potrubí (Bar)"},"width":579.4,"height":44,"data":{"name":"s6"},
"encoding":{"x":{"field":"t","type":"quantitative","scale":{"domain":[280,333],"nice":false,"zero":false},"axis":{"title":null,"values":[280,282.95,285.9,288.84,291.78,294.73,297.67,300.61,303.56,306.5,309.44,312.39,315.33,318.28,321.22,324.17,327.11,330.06,333],"labelExpr":"'00:0'+floor(datum.value/60)+':'+(floor(datum.value%60)<10?'0':'')+floor(datum.value%60)"}},
"y":{"field":"v","type":"quantitative","scale":{"domain":[-115.5,2287.5],"nice":false,"zero":false},"axis":{"title":null,"orient":"right","values":[-115.5,685.5,1486.5,2287.5],"format":".2f"}}},
"layer":[
{"mark":{"type":"line","color":"#3fa83f","strokeWidth":1.2}},
{"data":{"values":[{"t":310,"v":-115.5,"v2":2287.5}]},"mark":{"type":"rule","color":"#555555","strokeWidth":1},"encoding":{"y2":{"field":"v2"}}},
{"data":{"values":[{"t":329.4,"t2":332.74,"v":2249,"v2":1886}]},"mark":{"type":"rect","color":"#7d7d7d","cornerRadius":1.5},"encoding":{"x2":{"field":"t2"},"y2":{"field":"v2"}}},
{"data":{"values":[{"t":332.6,"v":2071,"label":"00:05:10 / 1698"}]},"mark":{"type":"text","color":"white","fontSize":4.8,"align":"right"},"encoding":{"text":{"field":"label"}}}
]},
{"title":{"text":"Celkové vstřikovací množství (mg)"},"width":579.4,"height":44,"data":{"name":"s7"},
"encoding":{"x":{"field":"t","type":"quantitative","scale":{"domain":[280,333],"nice":false,"zero":false},"axis":{"title":null,"values":[280,282.95,285.9,288.84,291.78,294.73,297.67,300.61,303.56,306.5,309.44,312.39,315.33,318.28,321.22,324.17,327.11,330.06,333],"labelExpr":"'00:0'+floor(datum.value/60)+':'+(floor(datum.value%60)<10?'0':'')+floor(datum.value%60)"}},
"y":{"field":"v","type":"quantitative","scale":{"domain":[-16.5,82.5],"nice":false,"zero":false},"axis":{"title":null,"orient":"right","values":[-16.5,16.5,49.5,82.5],"format":".2f"}}},
"layer":[
{"mark":{"type":"line","color":"#55cdfa","strokeWidth":1.2}},
{"data":{"values":[{"t":310,"v":-16.5,"v2":82.5}]},"mark":{"type":"rule","color":"#555555","strokeWidth":1},"encoding":{"y2":{"field":"v2"}}},
{"data":{"values":[{"t":329.5,"t2":332.74,"v":80.9,"v2":66}]},"mark":{"type":"rect","color":"#7d7d7d","cornerRadius":1.5},"encoding":{"x2":{"field":"t2"},"y2":{"field":"v2"}}},
{"data":{"values":[{"t":332.6,"v":73.6,"label":"00:05:10 / 51.5"}]},"mark":{"type":"text","color":"white","fontSize":4.8,"align":"right"},"encoding":{"text":{"field":"label"}}},
{"data":{"values":[{"t":292.9,"v":25.3,"label":"Zvýši dávku a absolútne nezrýchluje je"},{"t":292.9,"v":2.2,"label":"hluche na plyn"}]},"mark":{"type":"text","color":"#222222","fontSize":8,"font":"Lato","align":"left"},"encoding":{"text":{"field":"label"}}},
{"data":{"values":[{"t":307.32,"v":35.9}]},"mark":{"type":"point","shape":"M0,0L10.7,17.7L5.3,17.7L5.3,35L-5,35L-5,17.7L-10.7,17.7Z","size":4,"fill":"white","filled":true,"stroke":"black","strokeWidth":1.6,"opacity":1}}
]},
{"title":{"text":"Měřič hmotnosti vzduchu (g/s)"},"width":579.4,"height":44,"data":{"name":"s8"},
"encoding":{"x":{"field":"t","type":"quantitative","scale":{"domain":[280,333],"nice":false,"zero":false},"axis":{"title":null,"values":[280,282.95,285.9,288.84,291.78,294.73,297.67,300.61,303.56,306.5,309.44,312.39,315.33,318.28,321.22,324.17,327.11,330.06,333],"labelExpr":"'00:0'+floor(datum.value/60)+':'+(floor(datum.value%60)<10?'0':'')+floor(datum.value%60)"}},
"y":{"field":"v","type":"quantitative","scale":{"domain":[-28.4,175],"nice":false,"zero":false},"axis":{"title":null,"orient":"right","values":[-28.4,39.4,107.2,175],"format":".2f"}}},
"layer":[
{"mark":{"type":"line","color":"#f95cf0","strokeWidth":1.2}},
{"data":{"values":[{"t":310,"v":-28.4,"v2":175}]},"mark":{"type":"rule","color":"#555555","strokeWidth":1},"encoding":{"y2":{"field":"v2"}}},
{"data":{"values":[{"t":329.5,"t2":332.74,"v":171.7,"v2":141}]},"mark":{"type":"rect","color":"#7d7d7d","cornerRadius":1.5},"encoding":{"x2":{"field":"t2"},"y2":{"field":"v2"}}},
{"data":{"values":[{"t":332.6,"v":156.7,"label":"00:05:10 / 61.4"}]},"mark":{"type":"text","color":"white","fontSize":4.8,"align":"right"},"encoding":{"text":{"field":"label"}}}
]}
]},
{"bounds":"flush","spacing":260,"vconcat":[
{"bounds":"flush","spacing":20.5,"vconcat":[
{"width":579.4,"height":44,"data":{"name":"s9"},
"encoding":{"x":{"field":"t","type":"quantitative","scale":{"domain":[280,333],"nice":false,"zero":false},"axis":{"title":null,"values":[280,282.95,285.9,288.84,291.78,294.73,297.67,300.61,303.56,306.5,309.44,312.39,315.33,318.28,321.22,324.17,327.11,330.06,333],"labelExpr":"'00:0'+floor(datum.value/60)+':'+(floor(datum.value%60)<10?'0':'')+floor(datum.value%60)"}},
"y":{"field":"v","type":"quantitative","scale":{"domain":[600,2940],"nice":false,"zero":false},"axis":{"title":null,"orient":"right","values":[600,1380,2160,2940],"format":".2f"}}},
"layer":[
{"mark":{"type":"line","color":"#f2505a","strokeWidth":1.2}},
{"data":{"values":[{"t":310,"v":600,"v2":2940}]},"mark":{"type":"rule","color":"#555555","strokeWidth":1},"encoding":{"y2":{"field":"v2"}}},
{"data":{"values":[{"t":329.4,"t2":332.74,"v":2902.6,"v2":2549}]},"mark":{"type":"rect","color":"#7d7d7d","cornerRadius":1.5},"encoding":{"x2":{"field":"t2"},"y2":{"field":"v2"}}},
{"data":{"values":[{"t":332.6,"v":2729,"label":"00:05:10 / 1510"}]},"mark":{"type":"text","color":"white","fontSize":4.8,"align":"right"},"encoding":{"text":{"field":"label"}}},
{"data":{"values":[{"t":279.13,"v":3695,"label":"Senzor absolutního tlaku (mbar)"}]},"mark":{"type":"text","color":"#333333","fontSize":6.3,"align":"left"},"encoding":{"text":{"field":"label"}}},
{"data":{"values":[{"t":278.72,"t2":335.4,"v":3642,"v2":3456}]},"mark":{"type":"rect","color":"white"},"encoding":{"x2":{"field":"t2"},"y2":{"field":"v2"}}},
{"data":{"values":[{"t":279.14,"v":3387,"label":"Senzor absolutního tlaku (mbar)"}]},"mark":{"type":"text","color":"#333333","fontSize":6.3,"align":"left"},"encoding":{"text":{"field":"label"}}},
{"data":{"values":[{"t":335.53,"t2":336.07,"v":3775,"v2":-10308}]},"mark":{"type":"rect","color":"#f0f0f0"},"encoding":{"x2":{"field":"t2"},"y2":{"field":"v2"}}},
{"data":{"values":[{"t":335.53,"t2":336.07,"v":-4893,"v2":-8084}]},"mark":{"type":"rect","color":"#c4c4c4"},"encoding":{"x2":{"field":"t2"},"y2":{"field":"v2"}}},
{"data":{"values":[{"t":307.4,"v":1419}]},"mark":{"type":"point","shape":"M0,0L7.8,15.7L3.75,15.7L3.75,34L-3.75,34L-3.75,15.7L-7.8,15.7Z","size":4,"fill":"white","filled":true,"stroke":"black","strokeWidth":1.6,"opacity":1}},
{"data":{"values":[{"t":300.72,"t2":313.48,"v":3668.6,"v2":2498.6}]},"mark":{"type":"rect","color":"#0275d8","cornerRadiusBottomLeft":10,"cornerRadiusBottomRight":10},"encoding":{"x2":{"field":"t2"},"y2":{"field":"v2"}}},
{"data":{"values":[{"t":301.9,"v":3083.6}]},"mark":{"type":"point","shape":"M-5,-6V6M5,-6L-2,0L5,6Z","size":4,"stroke":"white","strokeWidth":1.6,"opacity":1}},
{"data":{"values":[{"t":307,"v":3083.6}]},"mark":{"type":"point","shape":"M4,-1.5A5.5,5.5,0,1,1,-7,-1.5A5.5,5.5,0,1,1,4,-1.5ZM-4,-1.5H1M2.5,2.5L7,7","size":4,"stroke":"white","strokeWidth":1.6,"opacity":1}},
{"data":{"values":[{"t":312.2,"v":3083.6}]},"mark":{"type":"point","shape":"M5,-6V6M-5,-6L2,0L-5,6Z","size":4,"stroke":"white","strokeWidth":1.6,"opacity":1}}
]},
{"title":{"text":"Diferenční tlak částicového filtru (mbar)"},"width":579.4,"height":44,"data":{"name":"s10"},
"encoding":{"x":{"field":"t","type":"quantitative","scale":{"domain":[280,333],"nice":false,"zero":false},"axis":{"title":null,"values":[280,282.95,285.9,288.84,291.78,294.73,297.67,300.61,303.56,306.5,309.44,312.39,315.33,318.28,321.22,324.17,327.11,330.06,333],"labelExpr":"'00:0'+floor(datum.value/60)+':'+(floor(datum.value%60)<10?'0':'')+floor(datum.value%60)"}},
"y":{"field":"v","type":"quantitative","scale":{"domain":[-70,374],"nice":false,"zero":false},"axis":{"title":null,"orient":"right","values":[-70,78,226,374],"format":".2f"}}},
"layer":[
{"mark":{"type":"line","color":"#4cf04c","strokeWidth":1.2}},
{"data":{"values":[{"t":310,"v":-70,"v2":374}]},"mark":{"type":"rule","color":"#555555","strokeWidth":1},"encoding":{"y2":{"field":"v2"}}},
{"data":{"values":[{"t":330,"t2":332.74,"v":367,"v2":299.9}]},"mark":{"type":"rect","color":"#7d7d7d","cornerRadius":1.5},"encoding":{"x2":{"field":"t2"},"y2":{"field":"v2"}}},
{"data":{"values":[{"t":332.6,"v":334,"label":"00:05:10 / 96"}]},"mark":{"type":"text","color":"white","fontSize":4.8,"align":"right"},"encoding":{"text":{"field":"label"}}}
]},
{"title":{"text":"Cílový tlak potrubí (Bar)"},"width":579.4,"height":44,"data":{"name":"s11"},
"encoding":{"x":{"field":"t","type":"quantitative","scale":{"domain":[280,333],"nice":false,"zero":false},"axis":{"title":null,"values":[280,282.95,285.9,288.84,291.78,294.73,297.67,300.61,303.56,306.5,309.44,312.39,315.33,318.28,321.22,324.17,327.11,330.06,333],"labelExpr":"'00:0'+floor(datum.value/60)+':'+(floor(datum.value%60)<10?'0':'')+floor(datum.value%60)"}},
"y":{"field":"v","type":"quantitative","scale":{"domain":[-74,2170],"nice":false,"zero":false},"axis":{"title":null,"orient":"right","values":[-74,674,1422,2170],"format":".2f"}}},
"layer":[
{"mark":{"type":"line","color":"#3c3cf0","strokeWidth":1.2}},
{"data":{"values":[{"t":310,"v":-74,"v2":2170}]},"mark":{"type":"rule","color":"#555555","strokeWidth":1},"encoding":{"y2":{"field":"v2"}}},
{"data":{"values":[{"t":329.4,"t2":332.74,"v":2134,"v2":1795}]},"mark":{"type":"rect","color":"#7d7d7d","cornerRadius":1.5},"encoding":{"x2":{"field":"t2"},"y2":{"field":"v2"}}},
{"data":{"values":[{"t":332.6,"v":1968,"label":"00:05:10 / 1699"}]},"mark":{"type":"text","color":"white","fontSize":4.8,"align":"right"},"encoding":{"text":{"field":"label"}}}
]},
{"title":{"text":"Poloha škrticí klapky EGR (%)"},"width":579.4,"height":44,"data":{"name":"s12"},
"encoding":{"x":{"field":"t","type":"quantitative","scale":{"domain":[280,333],"nice":false,"zero":false},"axis":{"title":null,"values":[280,282.95,285.9,288.84,291.78,294.73,297.67,300.61,303.56,306.5,309.44,312.39,315.33,318.28,321.22,324.17,327.11,330.06,333],"labelExpr":"'00:0'+floor(datum.value/60)+':'+(floor(datum.value%60)<10?'0':'')+floor(datum.value%60)"}},
"y":{"field":"v","type":"quantitative","scale":{"domain":[-19.5,85.5],"nice":false,"zero":false},"axis":{"title":null,"orient":"right","values":[-19.5,15.5,50.5,85.5],"format":".2f"}}},
"layer":[
{"mark":{"type":"line","color":"#a4a4a4","strokeWidth":1.2}},
{"data":{"values":[{"t":310,"v":-19.5,"v2":85.5}]},"mark":{"type":"rule","color":"#555555","strokeWidth":1},"encoding":{"y2":{"field":"v2"}}},
{"data":{"values":[{"t":330.2,"t2":332.74,"v":83.8,"v2":68}]},"mark":{"type":"rect","color":"#7d7d7d","cornerRadius":1.5},"encoding":{"x2":{"field":"t2"},"y2":{"field":"v2"}}},
{"data":{"values":[{"t":332.6,"v":76,"label":"00:05:10 / 0"}]},"mark":{"type":"text","color":"white","fontSize":4.8,"align":"right"},"encoding":{"text":{"field":"label"}}}
]}
]},
{"bounds":"flush","spacing":20.5,"vconcat":[
{"width":579.4,"height":44,"data":{"name":"s13"},
"encoding":{"x":{"field":"t","type":"quantitative","scale":{"domain":[280,333],"nice":false,"zero":false},"axis":{"title":null,"values":[280,282.95,285.9,288.84,291.78,294.73,297.67,300.61,303.56,306.5,309.44,312.39,315.33,318.28,321.22,324.17,327.11,330.06,333],"labelExpr":"'00:0'+floor(datum.value/60)+':'+(floor(datum.value%60)<10?'0':'')+floor(datum.value%60)"}},
"y":{"field":"v","type":"quantitative","scale":{"domain":[-12.75,117.75],"nice":false,"zero":false},"axis":{"title":null,"orient":"right","values":[-12.75,30.75,74.25,117.75],"format":".2f"}}},
"layer":[
{"mark":{"type":"line","color":"#ffc34d","strokeWidth":1.2}},
{"data":{"values":[{"t":310,"v":-12.75,"v2":117.75}]},"mark":{"type":"rule","color":"#555555","strokeWidth":1},"encoding":{"y2":{"field":"v2"}}},
{"data":{"values":[{"t":329.9,"t2":332.74,"v":115.7,"v2":96}]},"mark":{"type":"rect","color":"#7d7d7d","cornerRadius":1.5},"encoding":{"x2":{"field":"t2"},"y2":{"field":"v2"}}},
{"data":{"values":[{"t":332.6,"v":106,"label":"00:05:10 / 89"}]},"mark":{"type":"text","color":"white","fontSize":4.8,"align":"right"},"encoding":{"text":{"field":"label"}}},
{"data":{"values":[{"t":279.14,"v":140.6,"label":"Poloha regulačního ventilu plnění turbodmychadla (%)"}]},"mark":{"type":"text","color":"#333333","fontSize":6.3,"align":"left"},"encoding":{"text":{"field":"label"}}},
{"data":{"values":[{"t":335.53,"t2":336.07,"v":149.5,"v2":-420}]},"mark":{"type":"rect","color":"#f0f0f0"},"encoding":{"x2":{"field":"t2"},"y2":{"field":"v2"}}},
{"data":{"values":[{"t":335.4,"t2":335.95,"v":-559.4,"v2":-639.5}]},"mark":{"type":"rect","color":"#c4c4c4"},"encoding":{"x2":{"field":"t2"},"y2":{"field":"v2"}}},
{"data":{"values":[{"t":300.72,"t2":313.48,"v":152.45,"v2":84.3}]},"mark":{"type":"rect","color":"#0275d8","cornerRadiusBottomLeft":10,"cornerRadiusBottomRight":10},"encoding":{"x2":{"field":"t2"},"y2":{"field":"v2"}}},
{"data":{"values":[{"t":301.9,"v":118.3}]},"mark":{"type":"point","shape":"M-5,-6V6M5,-6L-2,0L5,6Z","size":4,"stroke":"white","strokeWidth":1.6,"opacity":1}},
{"data":{"values":[{"t":307,"v":118.3}]},"mark":{"type":"point","shape":"M4,-1.5A5.5,5.5,0,1,1,-7,-1.5A5.5,5.5,0,1,1,4,-1.5ZM-4,-1.5H1M2.5,2.5L7,7","size":4,"stroke":"white","strokeWidth":1.6,"opacity":1}},
{"data":{"values":[{"t":312.2,"v":118.3}]},"mark":{"type":"point","shape":"M5,-6V6M-5,-6L2,0L-5,6Z","size":4,"stroke":"white","strokeWidth":1.6,"opacity":1}}
]},
{"title":{"text":"Tlak sacího potrubí - cílová hodnota (mbar)"},"width":579.4,"height":44,"data":{"name":"s14"},
"encoding":{"x":{"field":"t","type":"quantitative","scale":{"domain":[280,333],"nice":false,"zero":false},"axis":{"title":null,"values":[280,282.95,285.9,288.84,291.78,294.73,297.67,300.61,303.56,306.5,309.44,312.39,315.33,318.28,321.22,324.17,327.11,330.06,333],"labelExpr":"'00:0'+floor(datum.value/60)+':'+(floor(datum.value%60)<10?'0':'')+floor(datum.value%60)"}},
"y":{"field":"v","type":"quantitative","scale":{"domain":[638,2708],"nice":false,"zero":false},"axis":{"title":null,"orient":"right","values":[638,1328,2018,2708],"format":".2f"}}},
"layer":[
{"mark":{"type":"line","color":"#3fa83f","strokeWidth":1.2}},
{"data":{"values":[{"t":310,"v":638,"v2":2708}]},"mark":{"type":"rule","color":"#555555","strokeWidth":1},"encoding":{"y2":{"field":"v2"}}},
{"data":{"values":[{"t":329.4,"t2":332.74,"v":2675,"v2":2362}]},"mark":{"type":"rect","color":"#7d7d7d","cornerRadius":1.5},"encoding":{"x2":{"field":"t2"},"y2":{"field":"v2"}}},
{"data":{"values":[{"t":332.6,"v":2522,"label":"00:05:10 / 2110"}]},"mark":{"type":"text","color":"white","fontSize":4.8,"align":"right"},"encoding":{"text":{"field":"label"}}},
{"data":{"values":[{"t":306.13,"v":1908}]},"mark":{"type":"point","shape":"M0,0L14.7,21L7,21L7,41L-7,41L-7,21L-14.7,21Z","size":4,"fill":"white","filled":true,"stroke":"black","strokeWidth":1.6,"opacity":1}}
]},
{"title":{"text":"Koncentrace kyslíku s korekcí atmosférického tlaku (%)"},"width":579.4,"height":44,"data":{"name":"s15"},
"encoding":{"x":{"field":"t","type":"quantitative","scale":{"domain":[280,333],"nice":false,"zero":false},"axis":{"title":null,"values":[280,282.95,285.9,288.84,291.78,294.73,297.67,300.61,303.56,306.5,309.44,312.39,315.33,318.28,321.22,324.17,327.11,330.06,333],"labelExpr":"'00:0'+floor(datum.value/60)+':'+(floor(datum.value%60)<10?'0':'')+floor(datum.value%60)"}},
"y":{"field":"v","type":"quantitative","scale":{"domain":[-4,26],"nice":false,"zero":false},"axis":{"title":null,"orient":"right","values":[-4,6,16,26],"format":".2f"}}},
"layer":[
{"mark":{"type":"line","color":"#55cdfa","strokeWidth":1.2}},
{"data":{"values":[{"t":310,"v":-4,"v2":26}]},"mark":{"type":"rule","color":"#555555","strokeWidth":1},"encoding":{"y2":{"field":"v2"}}},
{"data":{"values":[{"t":329.9,"t2":332.74,"v":25.5,"v2":21}]},"mark":{"type":"rect","color":"#7d7d7d","cornerRadius":1.5},"encoding":{"x2":{"field":"t2"},"y2":{"field":"v2"}}},
{"data":{"values":[{"t":332.6,"v":23.3,"label":"00:05:10 / 21"}]},"mark":{"type":"text","color":"white","fontSize":4.8,"align":"right"},"encoding":{"text":{"field":"label"}}}
]},
{"title":{"text":"Cílová hmotnost vzduchu (mg)"},"width":579.4,"height":44,"data":{"name":"s16"},
"encoding":{"x":{"field":"t","type":"quantitative","scale":{"domain":[280,333],"nice":false,"zero":false},"axis":{"title":null,"values":[280,282.95,285.9,288.84,291.78,294.73,297.67,300.61,303.56,306.5,309.44,312.39,315.33,318.28,321.22,324.17,327.11,330.06,333],"labelExpr":"'00:0'+floor(datum.value/60)+':'+(floor(datum.value%60)<10?'0':'')+floor(datum.value%60)"}},
"y":{"field":"v","type":"quantitative","scale":{"domain":[45,1515],"nice":false,"zero":false},"axis":{"title":null,"orient":"right","values":[45,535,1025,1515],"format":".2f"}}},
"layer":[
{"mark":{"type":"line","color":"#f95cf0","strokeWidth":1.2}},
{"data":{"values":[{"t":310,"v":45,"v2":1515}]},"mark":{"type":"rule","color":"#555555","strokeWidth":1},"encoding":{"y2":{"field":"v2"}}},
{"data":{"values":[{"t":329.3,"t2":332.74,"v":1491.5,"v2":1269.5}]},"mark":{"type":"rect","color":"#7d7d7d","cornerRadius":1.5},"encoding":{"x2":{"field":"t2"},"y2":{"field":"v2"}}},
{"data":{"values":[{"t":332.6,"v":1382.7,"label":"00:05:10 / 1230"}]},"mark":{"type":"text","color":"white","fontSize":4.8,"align":"right"},"encoding":{"text":{"field":"label"}}}
]}
]}
]}
]}
]
}
